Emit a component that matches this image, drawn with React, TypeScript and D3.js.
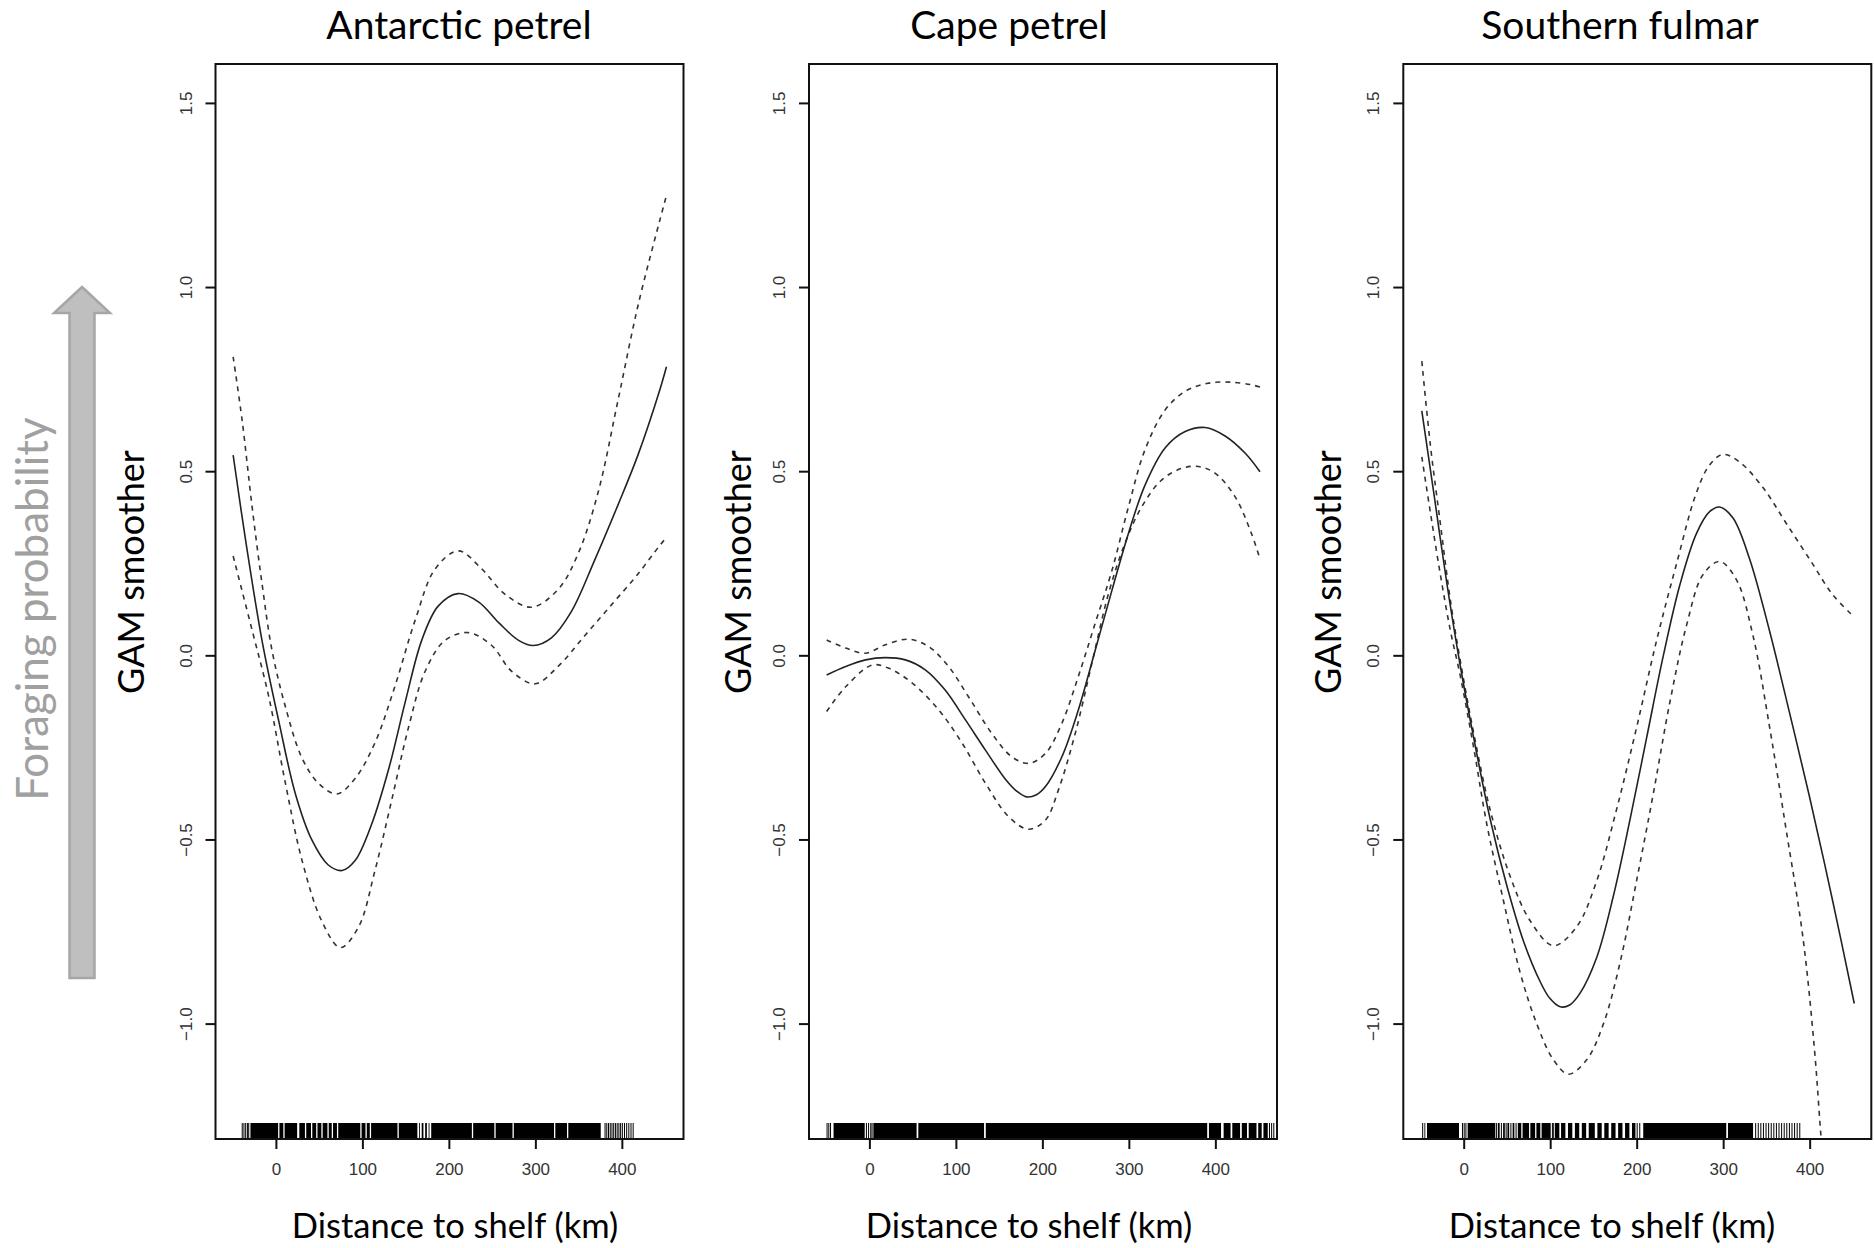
import React from "react";
import * as d3 from "d3";

type Pt = [number, number];

// ---------- text ----------
const speciesTitles = ["Antarctic petrel", "Cape petrel", "Southern fulmar"];
const xAxisTitle = "Distance to shelf (km)";
const yAxisTitle = "GAM smoother";
const sideLabel = "Foraging probability";

// ---------- axes ----------
const xTickValues = [0, 100, 200, 300, 400];
const yTickValues = [-1.0, -0.5, 0.0, 0.5, 1.0, 1.5];
const xLimits: [number, number] = [-70.4, 470.7];
const yLimits: [number, number] = [-1.312, 1.607];

// ---------- Antarctic petrel ----------
const antarcticFit: Pt[] = [
  [-50, 0.545], [-36, 0.32], [-16.5, 0.04], [3, -0.18], [22, -0.375], [41, -0.5],
  [60, -0.568], [76, -0.583], [91, -0.556], [110, -0.458], [130, -0.306], [149, -0.125],
  [168, 0.042], [187, 0.135], [210, 0.169], [234, 0.146], [257, 0.09], [280, 0.042],
  [297, 0.028], [318, 0.049], [341, 0.12], [368, 0.26], [395, 0.41], [418, 0.545],
  [443, 0.72], [451, 0.785],
];
const antarcticUpper: Pt[] = [
  [-50, 0.812], [-39.6, 0.639], [-28, 0.403], [-16.5, 0.194], [-5, 0.014], [10.5, -0.139],
  [29.7, -0.278], [49, -0.347], [70, -0.375], [91, -0.333], [114, -0.236], [137, -0.083],
  [160.5, 0.097], [183.6, 0.236], [210.5, 0.285], [237.4, 0.236], [264.4, 0.167], [295, 0.132],
  [326, 0.181], [349, 0.278], [372, 0.444], [395, 0.694], [418, 0.95], [443, 1.18], [451, 1.25],
];
const antarcticLower: Pt[] = [
  [-50, 0.271], [-28, 0.069], [-8.8, -0.111], [10.5, -0.347], [29.7, -0.556], [52.8, -0.722],
  [74, -0.792], [95, -0.736], [114, -0.583], [133.6, -0.389], [152.8, -0.194], [172, -0.042],
  [195, 0.042], [222, 0.063], [249, 0.028], [272, -0.042], [299, -0.076], [326, -0.028],
  [357, 0.056], [387.6, 0.139], [418, 0.222], [443, 0.299], [451, 0.321],
];
const antarcticRugSpans: Pt[] = [
  [-30, 2], [3.5, 8], [9.5, 24], [26.5, 33], [34.5, 40], [41.5, 46], [47.5, 52], [53.5, 59],
  [60.5, 64], [65.5, 70], [71.5, 97], [98.5, 103], [104.5, 108], [109.5, 140], [141.5, 163],
  [165, 166], [168, 170], [172, 174], [176, 177], [179, 226], [227.5, 252], [253.5, 273],
  [274.5, 321], [322.5, 336], [337.5, 375],
];
const antarcticRugTicks = [
  -39.5, -37.5, -35.5, -33.5, -32, 380, 382, 384, 386, 388, 390, 392, 394, 396, 398, 400,
  402.5, 405, 407.5, 410, 412.5,
];

// ---------- Cape petrel ----------
const capeFit: Pt[] = [
  [-50, -0.052], [-28, -0.029], [-5, -0.011], [18, -0.005], [41, -0.011], [64, -0.038],
  [87, -0.093], [110.5, -0.174], [133.6, -0.256], [156.7, -0.335], [170, -0.368],
  [181, -0.383], [192, -0.378], [203, -0.355], [222, -0.274], [241, -0.147], [260.6, 0.016],
  [280, 0.179], [299, 0.333], [318, 0.463], [341.5, 0.565], [364.5, 0.609], [387.6, 0.62],
  [410.7, 0.597], [434, 0.55], [451, 0.5],
];
const capeUpper: Pt[] = [
  [-50, 0.043], [-28, 0.021], [-5, 0.007], [18, 0.03], [45, 0.045], [68, 0.025], [91, -0.029],
  [114, -0.111], [141, -0.211], [164, -0.274], [183.6, -0.292], [203, -0.265], [222, -0.183],
  [241, -0.056], [260.6, 0.089], [280, 0.233], [299, 0.405], [318, 0.559], [341.5, 0.668],
  [364.5, 0.718], [391, 0.74], [418, 0.743], [441, 0.736], [451, 0.73],
];
const capeLower: Pt[] = [
  [-50, -0.151], [-28, -0.084], [2.7, -0.025], [22, -0.034], [49, -0.074], [79.6, -0.147],
  [106.6, -0.237], [133.6, -0.346], [160.5, -0.437], [183.6, -0.471], [203, -0.446],
  [218, -0.364], [237.5, -0.21], [256.7, -0.02], [276, 0.17], [295, 0.306], [314.4, 0.405],
  [337.5, 0.478], [360.6, 0.509], [380, 0.514], [399, 0.496], [422, 0.433], [441, 0.333],
  [451, 0.263],
];
const capeRugSpans: Pt[] = [
  [-42, -6], [4, 54], [56, 132], [134, 390], [392, 406], [409, 417], [419, 428], [430, 436],
  [438, 447], [449, 453], [455, 460],
];
const capeRugTicks = [-49.5, -47.5, -45.5, -4, -1.5, 1, 2.5, 462, 464.5, 467];

// ---------- Southern fulmar ----------
const fulmarFit: Pt[] = [
  [-49, 0.665], [-35.2, 0.443], [-19.8, 0.193], [-4.4, -0.029], [11, -0.223], [30.2, -0.445],
  [49.4, -0.625], [68.6, -0.775], [87.9, -0.885], [99, -0.93], [111, -0.953], [122, -0.948],
  [134, -0.916], [153.2, -0.819], [172.4, -0.653], [191.7, -0.445], [210.9, -0.223],
  [230.1, -0.001], [249.4, 0.193], [268.5, 0.332], [284, 0.392], [295.5, 0.404],
  [310.8, 0.374], [330, 0.263], [353, 0.068], [376, -0.153], [399, -0.38], [426, -0.665],
  [451, -0.944],
];
const fulmarUpper: Pt[] = [
  [-49, 0.8], [-39, 0.57], [-27.6, 0.36], [-15.9, 0.15], [-4.4, -0.015], [11, -0.21],
  [30.2, -0.42], [53.3, -0.6], [76.4, -0.72], [103.2, -0.787], [130, -0.736], [153.2, -0.611],
  [176.2, -0.417], [199.3, -0.195], [222.4, 0.041], [245.4, 0.249], [268.5, 0.443],
  [284, 0.519], [299.3, 0.547], [318.6, 0.526], [345.4, 0.457], [372.3, 0.36], [403, 0.249],
  [426, 0.166], [449, 0.11],
];
const fulmarLower: Pt[] = [
  [-49, 0.54], [-39, 0.388], [-27.6, 0.221], [-15.9, 0.068], [-4.4, -0.056], [11, -0.25],
  [26.3, -0.459], [45.6, -0.667], [64.8, -0.861], [84, -1.0], [103.2, -1.097],
  [120.5, -1.136], [141.6, -1.097], [160.9, -1.0], [180.2, -0.833], [199.3, -0.611],
  [218.6, -0.375], [237.8, -0.126], [257, 0.082], [276.2, 0.221], [295.5, 0.256],
  [314.7, 0.207], [333.9, 0.055], [353.2, -0.195], [372.3, -0.473], [391.6, -0.764],
  [405, -1.069], [412.7, -1.31], [420, -1.5], [451, -2.3],
];
const fulmarRugSpans: Pt[] = [
  [-46, -45], [-43, -6], [4, 36], [39, 41], [45, 47], [50, 52], [56, 58], [62, 66], [67.5, 75],
  [76.5, 82], [83.5, 88], [89.5, 100], [105, 110], [112, 117], [120, 125], [128, 133],
  [136, 141], [144, 151], [154, 159], [162, 167], [170, 175], [178, 183], [186, 191],
  [194, 198], [207, 303], [305, 334],
];
const fulmarRugTicks = [
  -48, -2, 0, 2, 37.5, 43, 48.5, 54, 60, 102, 103.5, 200, 203, 337, 340, 343, 346, 349, 352,
  355, 358, 361, 364, 367, 370, 373, 376, 379, 382, 385, 388,
];

// ---------- layout ----------
const W = 1874;
const H = 1248;
const PANEL_LEFT = [215.5, 809, 1403.3];
const PANEL_W = 468;
const TOP = 64;
const BOTTOM = 1139;
const TITLE_X = [459, 1009, 1620];
const XLAB_X = [455, 1029, 1612];
const YLAB_X = [144, 751, 1341];
const RUG_H = 16;

const SANS = "Lato, 'Open Sans', sans-serif";
const ARIAL = "'Liberation Sans', Arial, sans-serif";

const panels = [
  { fit: antarcticFit, upper: antarcticUpper, lower: antarcticLower, spans: antarcticRugSpans, ticks: antarcticRugTicks },
  { fit: capeFit, upper: capeUpper, lower: capeLower, spans: capeRugSpans, ticks: capeRugTicks },
  { fit: fulmarFit, upper: fulmarUpper, lower: fulmarLower, spans: fulmarRugSpans, ticks: fulmarRugTicks },
];

const fmt = d3.format(".1f");

function Panel({ i }: { i: number }) {
  const p = panels[i];
  const left = PANEL_LEFT[i];
  const x = d3.scaleLinear().domain(xLimits).range([left, left + PANEL_W]);
  const y = d3.scaleLinear().domain(yLimits).range([BOTTOM, TOP]);
  const line = d3
    .line<Pt>()
    .x((d) => x(d[0]))
    .y((d) => y(d[1]))
    .curve(d3.curveCatmullRom.alpha(0.5));
  const clipId = `clip-${i}`;
  return (
    <g>
      <defs>
        <clipPath id={clipId}>
          <rect x={left} y={TOP} width={PANEL_W} height={BOTTOM - TOP} />
        </clipPath>
      </defs>
      <text x={TITLE_X[i]} y={39} textAnchor="middle" fontFamily={SANS} fontSize={39} fill="#000">
        {speciesTitles[i]}
      </text>
      <g clipPath={`url(#${clipId})`} fill="none">
        <path d={line(p.upper) || ""} stroke="#333" strokeWidth={1.6} strokeDasharray="5,5" />
        <path d={line(p.lower) || ""} stroke="#333" strokeWidth={1.6} strokeDasharray="5,5" />
        <path d={line(p.fit) || ""} stroke="#222" strokeWidth={1.6} />
      </g>
      <g>
        {p.spans.map((s, k) => (
          <rect key={`s${k}`} x={x(s[0])} y={BOTTOM - RUG_H} width={x(s[1]) - x(s[0])} height={RUG_H} fill="#000" />
        ))}
        {p.ticks.map((t, k) => (
          <line key={`t${k}`} x1={x(t)} x2={x(t)} y1={BOTTOM - RUG_H} y2={BOTTOM} stroke="#000" strokeWidth={1} />
        ))}
      </g>
      <rect x={left} y={TOP} width={PANEL_W} height={BOTTOM - TOP} fill="none" stroke="#111" strokeWidth={2} />
      {xTickValues.map((v) => (
        <g key={`x${v}`}>
          <line x1={x(v)} x2={x(v)} y1={BOTTOM} y2={BOTTOM + 10} stroke="#111" strokeWidth={2} />
          <text x={x(v)} y={BOTTOM + 36} textAnchor="middle" fontFamily={ARIAL} fontSize={17} fill="#333">
            {v}
          </text>
        </g>
      ))}
      {yTickValues.map((v) => (
        <g key={`y${v}`}>
          <line x1={left - 10} x2={left} y1={y(v)} y2={y(v)} stroke="#111" strokeWidth={2} />
          <text
            transform={`translate(${left - 24},${y(v)}) rotate(-90)`}
            textAnchor="middle"
            fontFamily={ARIAL}
            fontSize={17}
            fill="#333"
          >
            {fmt(v)}
          </text>
        </g>
      ))}
      <text x={XLAB_X[i]} y={1238} textAnchor="middle" fontFamily={SANS} fontSize={34.5} fill="#000">
        {xAxisTitle}
      </text>
      <text
        transform={`translate(${YLAB_X[i]},572) rotate(-90)`}
        textAnchor="middle"
        fontFamily={SANS}
        fontSize={36}
        fill="#000"
      >
        {yAxisTitle}
      </text>
    </g>
  );
}

export default function App() {
  const arrow = [
    [82, 287],
    [110, 313],
    [94.5, 313],
    [94.5, 978],
    [69.5, 978],
    [69.5, 313],
    [54, 313],
  ];
  return (
    <svg
      width={W}
      height={H}
      viewBox={`0 0 ${W} ${H}`}
      style={{ position: "absolute", left: 0, top: 0, display: "block", background: "#fff" }}
    >
      <rect x={0} y={0} width={W} height={H} fill="#fff" />
      <polygon points={arrow.map((a) => a.join(",")).join(" ")} fill="#bfbfbf" stroke="#a6a6a6" strokeWidth={2.5} />
      <text
        transform={`translate(48,609) rotate(-90)`}
        textAnchor="middle"
        fontFamily={SANS}
        fontSize={44}
        fill="#a0a0a0"
      >
        {sideLabel}
      </text>
      {[0, 1, 2].map((i) => (
        <Panel key={i} i={i} />
      ))}
    </svg>
  );
}
